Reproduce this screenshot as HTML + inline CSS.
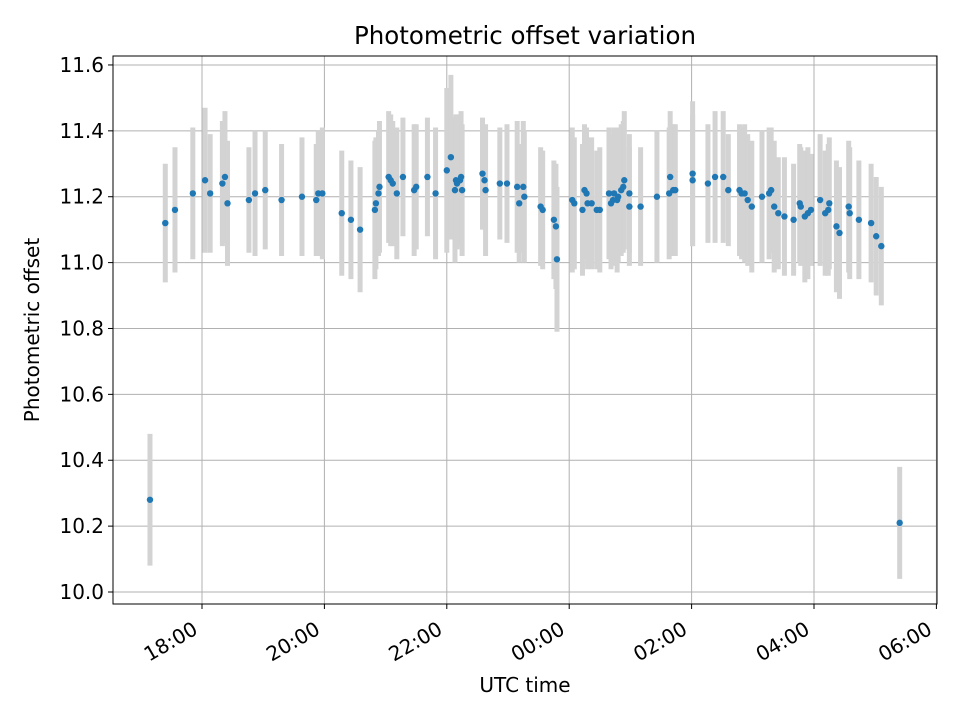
<!DOCTYPE html>
<html><head><meta charset="utf-8"><style>
body{margin:0;background:#fff;}
svg{display:block;font-family:"DejaVu Sans","Liberation Sans",sans-serif;}
</style></head><body>
<svg id="chart" width="960" height="720"></svg>
<script>
// minutes since 17:00 UTC
const times=[9,24,33.5,51,63,68,80,82.5,85,106,112,122,138,158,172,174,178,197,206,215,229.5,230.5,233,234,243,245,247,251,257,268,270,281,289,300,304,308,309,310,313,314,315,335,337,338,352,359,369,371,375,376,392,394,405,407,408,423,425,433,435,437,438,442,447,450,459,461,463,464,467,468,471,473,474,479,479,490,506,518,519,522,524,541,541,556,563,571,576,587,589,592,595,599,609,616,618,621,625,631,640,646,647,651,654,657,666,671,674,675,682,685,694,695,704,716,721,726,744];
const offsets=[10.28,11.12,11.16,11.21,11.25,11.21,11.24,11.26,11.18,11.19,11.21,11.22,11.19,11.20,11.19,11.21,11.21,11.15,11.13,11.10,11.16,11.18,11.21,11.23,11.26,11.25,11.24,11.21,11.26,11.22,11.23,11.26,11.21,11.28,11.32,11.22,11.25,11.24,11.25,11.26,11.22,11.27,11.25,11.22,11.24,11.24,11.23,11.18,11.23,11.20,11.17,11.16,11.13,11.11,11.01,11.19,11.18,11.16,11.22,11.21,11.18,11.18,11.16,11.16,11.21,11.18,11.19,11.21,11.19,11.20,11.22,11.23,11.25,11.21,11.17,11.17,11.20,11.21,11.26,11.22,11.22,11.27,11.25,11.24,11.26,11.26,11.22,11.22,11.21,11.21,11.19,11.17,11.20,11.21,11.22,11.17,11.15,11.14,11.13,11.18,11.17,11.14,11.15,11.16,11.19,11.15,11.16,11.18,11.11,11.09,11.17,11.15,11.13,11.12,11.08,11.05,10.21];
const errors=[0.2,0.18,0.19,0.2,0.22,0.18,0.19,0.2,0.19,0.16,0.19,0.18,0.17,0.18,0.17,0.19,0.2,0.19,0.18,0.19,0.21,0.2,0.19,0.2,0.2,0.2,0.19,0.2,0.18,0.2,0.19,0.18,0.2,0.25,0.25,0.22,0.2,0.2,0.2,0.2,0.2,0.17,0.15,0.2,0.17,0.18,0.2,0.18,0.2,0.2,0.18,0.18,0.18,0.19,0.22,0.22,0.2,0.2,0.2,0.2,0.2,0.2,0.18,0.19,0.2,0.2,0.2,0.2,0.22,0.2,0.2,0.2,0.21,0.18,0.18,0.18,0.2,0.2,0.2,0.2,0.2,0.22,0.2,0.18,0.2,0.2,0.17,0.2,0.2,0.21,0.2,0.2,0.2,0.2,0.19,0.2,0.17,0.18,0.17,0.18,0.18,0.2,0.2,0.17,0.2,0.19,0.2,0.2,0.2,0.2,0.2,0.2,0.18,0.18,0.18,0.18,0.17];
const xTickMins=[60,180,300,420,540,660,780];
const xTickLabels=["18:00","20:00","22:00","00:00","02:00","04:00","06:00"];
const yTicks=[10.0,10.2,10.4,10.6,10.8,11.0,11.2,11.4,11.6];

const L=113,R=937,T=56,B=604;
const xS=m=>202+(m-60)/60*61.2;
const yS=v=>592-(v-10)*329.4;
const svg=document.getElementById('chart');
const NS='http://www.w3.org/2000/svg';
function mk(tag,attrs,parent){const e=document.createElementNS(NS,tag);for(const k in attrs)e.setAttribute(k,attrs[k]);(parent||svg).appendChild(e);return e;}

const grid=mk('g',{});


xTickMins.forEach((m,i)=>{
  const x=xS(m);
  if(x<=R){const l=mk('line',{x1:x,x2:x,y1:T,y2:B,stroke:'#b0b0b0','stroke-width':1},grid);
  
  }
});
yTicks.forEach(v=>{
  const y=yS(v);
  const l=mk('line',{x1:L,x2:R,y1:y,y2:y,stroke:'#b0b0b0','stroke-width':1},grid);
  
  
});

const bars=mk('g',{});


times.forEach((t,i)=>{
  const x=xS(t);
  const b=mk('line',{x1:x,x2:x,y1:yS(offsets[i]+errors[i]),y2:yS(offsets[i]-errors[i]),stroke:'#d3d3d3','stroke-width':5},bars);
  
  
});
const pts=mk('g',{});


times.forEach((t,i)=>{
  const c=mk('circle',{cx:xS(t),cy:yS(offsets[i]),r:3.2,fill:'#1f77b4'},pts);
  
  
});

const frame=mk('rect',{x:L,y:T,width:R-L,height:B-T,fill:'none',stroke:'#000','stroke-width':1});



xTickMins.forEach((m,i)=>{
  const x=xS(m);
  const tk=mk('line',{x1:x,x2:x,y1:B,y2:B+5,stroke:'#000'});
  
  
  const ax=x-3, ay=B+29;
  const tx=mk('text',{x:ax,y:ay,'text-anchor':'end','font-size':20,transform:`rotate(-30 ${ax} ${ay})`});
  tx.textContent=xTickLabels[i];
  
  
});
yTicks.forEach(v=>{
  const y=yS(v);
  const tk=mk('line',{x1:L-5,x2:L,y1:y,y2:y,stroke:'#000'});
  
  
  const tx=mk('text',{x:L-9,y:y+7,'text-anchor':'end','font-size':20});
  tx.textContent=v.toFixed(1);
  
  
});
const title=mk('text',{x:525,y:44,'text-anchor':'middle','font-size':24.5});
title.textContent='Photometric offset variation';


const xl=mk('text',{x:525,y:692,'text-anchor':'middle','font-size':20});
xl.textContent='UTC time';


const yl=mk('text',{x:39,y:330,'text-anchor':'middle','font-size':20,transform:'rotate(-90 39 330)'});
yl.textContent='Photometric offset';


</script>
</body></html>
